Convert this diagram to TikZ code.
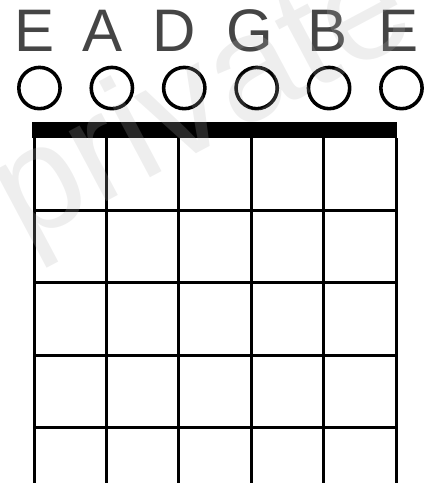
\documentclass[tikz,border=0pt]{standalone}
\usepackage{fontspec}
\setmainfont{Liberation Sans}

\begin{document}
\begin{tikzpicture}[x=1cm,y=1cm,
    wire/.style={line width=1.2pt},
    openstring/.style={line width=1.4pt},
    tuning/.style={font=\fontsize{23.6}{24}\selectfont,text=black!73,anchor=base,inner sep=0pt}]
  \useasboundingbox (-0.47,-4.765) rectangle (5.373,1.906);
  \foreach \i in {0,...,5} {
    \draw[wire] (\i,0) -- (\i,-4.8);
  }
  \foreach \j in {1,...,4} {
    \draw[wire] (0,-\j) -- (5,-\j);
  }
  \fill (-0.03,0) rectangle (5.02,0.22);
  \foreach \i in {0,...,5} {
    \draw[openstring] (\i+0.075,0.69) circle (0.285);
  }
  \foreach \x/\s [count=\k] in {0/E,0.94/A,1.93/D,2.98/G,4.05/B,5.03/E} {
    \node[tuning] (note\k) at (\x,1.20) {\s};
  }
  \node[rotate=28,font=\fontsize{59}{59}\selectfont,text=gray!60,text opacity=0.22,inner sep=0pt]
    (mark) at (2.35,0.45) {private};
\end{tikzpicture}
\end{document}
